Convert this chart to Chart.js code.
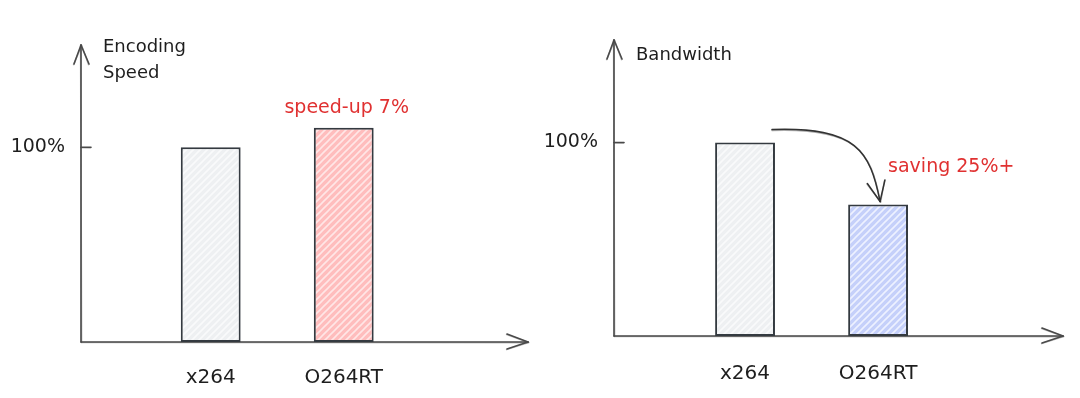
<!DOCTYPE html>
<html>
<head>
<meta charset="utf-8">
<title>x264 vs O264RT</title>
<script src="https://cdn.jsdelivr.net/npm/chart.js@4.4.0/dist/chart.umd.min.js"></script>
<style>
  html, body { margin: 0; padding: 0; background: #fff; }
  #wrap { position: relative; width: 1080px; height: 398px; overflow: hidden; }
  .panel { position: absolute; top: 0; width: 540px; height: 398px; }
</style>
</head>
<body>
<div id="wrap">
  <div class="panel" style="left:0"><canvas id="speedChart" width="540" height="398"></canvas></div>
  <div class="panel" style="left:540px"><canvas id="bandwidthChart" width="540" height="398"></canvas></div>
</div>
<script>
// data (percent of x264)
const categories = ['x264', 'O264RT'];
const positions = [1, 2];
const speedValues = [100, 110];
const bandwidthValues = [100, 68];
const yTicks = [100];
const speedTitle = ['Encoding', 'Speed'];
const bandwidthTitle = ['Bandwidth'];
const speedNote = 'speed-up 7%';
const bandwidthNote = 'saving 25%+';

const FONT = '"DejaVu Sans", sans-serif';
const INK = '#1e1e1e';
const RED = '#e03131';

/* hatched fill like a sketch tool */
function hatch(canvasId, base, line) {
  const n = 7;
  const tile = document.createElement('canvas');
  tile.width = n; tile.height = n;
  const g = tile.getContext('2d');
  g.fillStyle = base;
  g.fillRect(0, 0, n, n);
  g.strokeStyle = line;
  g.lineWidth = 1.6;
  g.beginPath();
  g.moveTo(0, n); g.lineTo(n, 0);
  g.moveTo(-n / 2, n / 2); g.lineTo(n / 2, -n / 2);
  g.moveTo(n / 2, n * 1.5); g.lineTo(n * 1.5, n / 2);
  g.stroke();
  return document.getElementById(canvasId).getContext('2d').createPattern(tile, 'repeat');
}

function roughLine(ctx, x1, y1, x2, y2) {
  ctx.beginPath();
  ctx.moveTo(x1, y1);
  ctx.lineTo(x2, y2);
  ctx.stroke();
  ctx.save();
  ctx.globalAlpha = 0.35;
  ctx.beginPath();
  ctx.moveTo(x1 + 0.6, y1 + 0.5);
  ctx.lineTo(x2 - 0.4, y2 + 0.6);
  ctx.stroke();
  ctx.restore();
}

const sketchAxes = {
  id: 'sketchAxes',
  beforeDatasetsDraw(chart, args, opts) {
    const { ctx, chartArea: a, scales: { y } } = chart;
    ctx.save();
    ctx.strokeStyle = '#4a4a4a';
    ctx.lineWidth = 1.6;
    ctx.lineCap = 'round';
    roughLine(ctx, a.left, a.bottom, a.left, a.top);
    roughLine(ctx, a.left, a.top, a.left - 7, a.top + 19);
    roughLine(ctx, a.left, a.top, a.left + 8, a.top + 19);
    roughLine(ctx, a.left, a.bottom, a.right, a.bottom);
    roughLine(ctx, a.right, a.bottom, a.right - 21, a.bottom - 8);
    roughLine(ctx, a.right, a.bottom, a.right - 21, a.bottom + 7);
    y.ticks.forEach(t => {
      const py = y.getPixelForValue(t.value);
      roughLine(ctx, a.left, py, a.left + 10, py);
    });
    ctx.fillStyle = INK;
    ctx.font = '18px ' + FONT;
    ctx.textBaseline = 'middle';
    opts.title.forEach((t, i) => ctx.fillText(t, a.left + 22, a.top + opts.titleTop + i * 26));
    ctx.restore();
  },
  afterDatasetsDraw(chart, args, opts) {
    const { ctx } = chart;
    const bars = chart.getDatasetMeta(0).data;
    const target = bars[opts.noteBar];
    ctx.save();
    ctx.fillStyle = RED;
    ctx.font = '19px ' + FONT;
    ctx.textBaseline = 'middle';
    ctx.textAlign = opts.noteAlign;
    ctx.fillText(opts.note, target.x + opts.noteDx, target.y + opts.noteDy);

    if (opts.arrow) {
      const from = bars[0];
      const sx = from.x + from.width / 2 - 3, sy = from.y - 13;
      const ex = target.x + 2, ey = target.y - 3;
      const c1x = sx + 85, c1y = sy - 3;
      const c2x = ex - 10, c2y = ey - 50;
      ctx.strokeStyle = '#333';
      ctx.lineWidth = 1.5;
      ctx.lineCap = 'round';
      [0, 1].forEach(k => {
        ctx.globalAlpha = k ? 0.4 : 1;
        ctx.beginPath();
        ctx.moveTo(sx, sy + k);
        ctx.bezierCurveTo(c1x, c1y + k, c2x + k, c2y, ex, ey);
        ctx.stroke();
      });
      ctx.globalAlpha = 1;
      const ang = Math.atan2(ey - c2y, ex - c2x);
      const len = 22, spread = 0.42;
      roughLine(ctx, ex, ey, ex - len * Math.cos(ang - spread), ey - len * Math.sin(ang - spread));
      roughLine(ctx, ex, ey, ex - len * Math.cos(ang + spread), ey - len * Math.sin(ang + spread));
    }
    ctx.restore();
  }
};

function buildChart(canvasId, values, fills, cfg) {
  return new Chart(document.getElementById(canvasId), {
    type: 'bar',
    data: {
      datasets: [{
        data: positions.map((p, i) => ({ x: p, y: values[i] })),
        backgroundColor: fills,
        borderColor: '#343a40',
        borderWidth: 2,
        borderSkipped: false,
        barPercentage: 0.45,
        categoryPercentage: 1
      }]
    },
    options: {
      responsive: false,
      devicePixelRatio: 1,
      animation: false,
      layout: { padding: { top: cfg.top, right: cfg.right, left: 0, bottom: 0 } },
      plugins: {
        legend: { display: false },
        tooltip: { enabled: false },
        sketchAxes: cfg.sketch
      },
      scales: {
        x: {
          type: 'linear',
          min: cfg.xMin,
          max: cfg.xMax,
          offset: false,
          grid: { display: false, drawTicks: false },
          border: { display: false },
          afterBuildTicks: s => { s.ticks = positions.map(v => ({ value: v })); },
          afterFit: s => { s.height = cfg.bottomBand; },
          ticks: {
            callback: v => categories[positions.indexOf(v)] || '',
            padding: cfg.labelGap,
            color: INK,
            font: { family: FONT, size: 20 },
            maxRotation: 0,
            autoSkip: false
          }
        },
        y: {
          min: 0,
          max: cfg.yMax,
          grid: { display: false, drawTicks: false },
          border: { display: false },
          afterBuildTicks: s => { s.ticks = yTicks.map(v => ({ value: v })); },
          afterFit: s => { s.width = cfg.axisLeft; },
          ticks: {
            callback: v => v + '%',
            padding: 16,
            color: INK,
            font: { family: FONT, size: 19 }
          }
        }
      }
    },
    plugins: [sketchAxes]
  });
}

buildChart('speedChart', speedValues,
  [hatch('speedChart', '#eef0f2', '#f9fafb'), hatch('speedChart', '#ffbdbd', '#ffe6e6')],
  {
    top: 45, right: 12, axisLeft: 81, bottomBand: 56, labelGap: 24,
    xMin: 0.025, xMax: 3.385, yMax: 152.5,
    sketch: { title: speedTitle, titleTop: 2, note: speedNote, noteBar: 1, noteDx: 3, noteDy: -20, noteAlign: 'center', arrow: false }
  });

buildChart('bandwidthChart', bandwidthValues,
  [hatch('bandwidthChart', '#eef0f2', '#f9fafb'), hatch('bandwidthChart', '#c5d0fa', '#edf1ff')],
  {
    top: 40, right: 17, axisLeft: 74, bottomBand: 62, labelGap: 26,
    xMin: 0.015, xMax: 3.39, yMax: 153,
    sketch: { title: bandwidthTitle, titleTop: 15, note: bandwidthNote, noteBar: 1, noteDx: 10, noteDy: -37, noteAlign: 'left', arrow: true }
  });
</script>
</body>
</html>
